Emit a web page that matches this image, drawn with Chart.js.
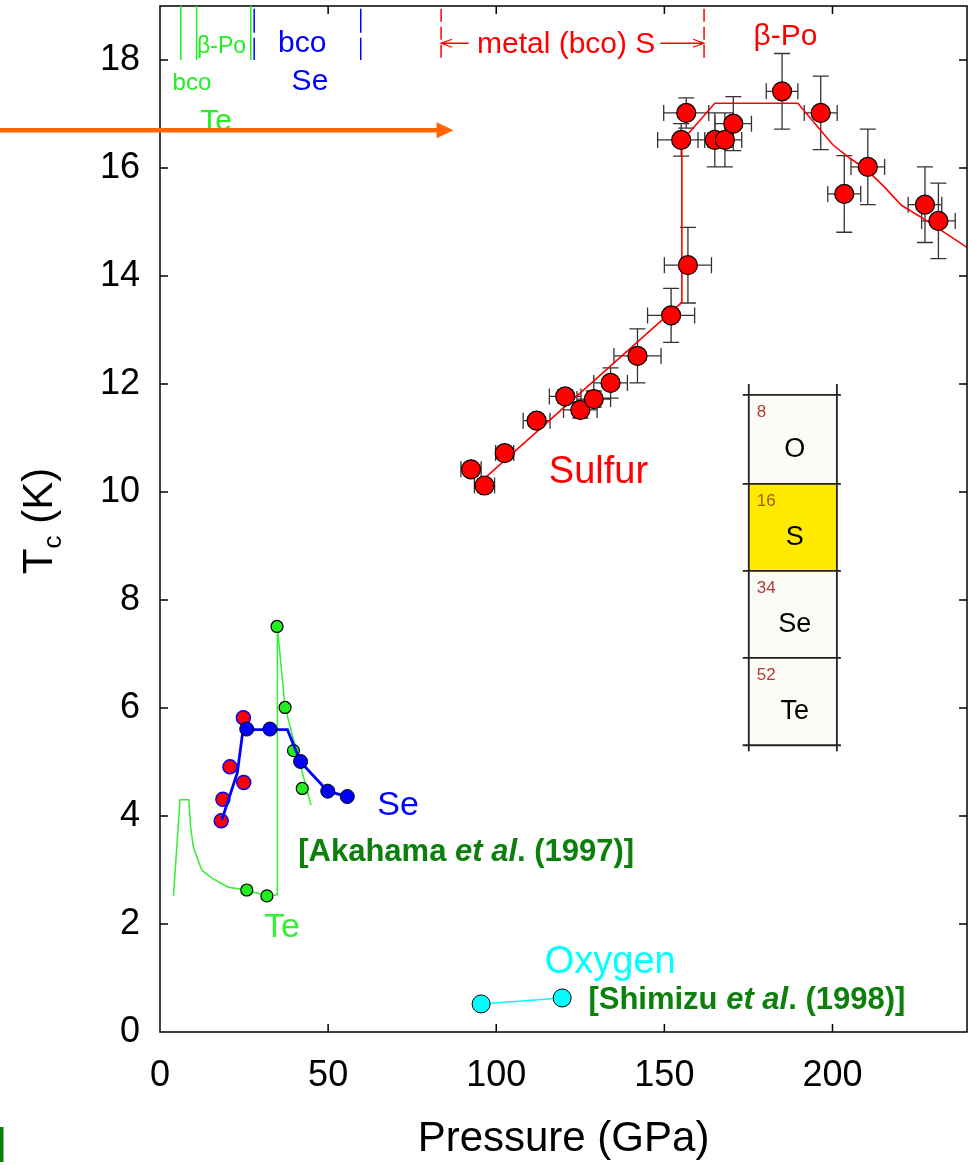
<!DOCTYPE html>
<html>
<head>
<meta charset="utf-8">
<script src="https://cdn.jsdelivr.net/npm/chart.js@4.4.0/dist/chart.umd.min.js"></script>
<style>
  body { margin: 0; background: #fff; }
  canvas { display: block; }
</style>
</head>
<body>
<canvas id="myChart" width="971" height="1165"></canvas>
<script>
// sulfur data (pressure GPa, Tc K) + error bars
let sulfurP = [92.5, 96.5, 102.5, 112, 120.5, 125, 129, 134, 142, 152, 157, 155, 156.5, 165, 168, 170.5, 185, 196.5, 203.5, 210.5, 227.5, 231.5];
let sulfurTc = [10.42, 10.12, 10.72, 11.32, 11.77, 11.52, 11.72, 12.02, 12.52, 13.27, 14.2, 16.52, 17.02, 16.52, 16.52, 16.82, 17.42, 17.02, 15.52, 16.02, 15.32, 15.02];
let sulfurPErr = [3, 3, 2.7, 4, 4.7, 5, 5, 5, 7, 7, 7, 7, 6.7, 5, 5, 5.4, 4.7, 4.9, 4.9, 5, 5, 5];
let sulfurTcErr = [0.1, 0.1, 0.1, 0.1, 0.12, 0.15, 0.15, 0.28, 0.5, 0.5, 0.7, 0.3, 0.28, 0.5, 0.5, 0.5, 0.7, 0.68, 0.71, 0.7, 0.7, 0.7];
let sulfurFitP = [97, 155.2, 155.2, 165, 189.7, 200.1, 205.2, 210.3, 215.4, 220.5, 227.6, 240];
let sulfurFitTc = [10.28, 13.51, 16.5, 17.2, 17.2, 16.43, 16.18, 15.96, 15.65, 15.31, 15.04, 14.53];

// selenium
let seRedP = [18.2, 18.7, 20.8, 24.9, 24.8];
let seRedTc = [3.91, 4.31, 4.91, 4.62, 5.82];
let seBlueP = [25.8, 32.7, 41.8, 49.9, 55.7];
let seBlueTc = [5.61, 5.61, 5.01, 4.46, 4.36];
let seLineP = [18.4, 23.0, 24.7, 37.9, 41.8, 49.9, 55.7];
let seLineTc = [3.93, 4.8, 5.6, 5.6, 5.0, 4.46, 4.36];

// tellurium
let teP = [25.8, 31.8, 34.8, 37.2, 39.7, 42.3];
let teTc = [2.63, 2.52, 7.51, 6.01, 5.21, 4.51];
let teLineP = [4.0, 5.95, 8.6, 9.1, 9.9, 12.4, 15.4, 20.3, 25.8, 31.8, 34.9, 34.9, 37.2, 44.9];
let teLineTc = [2.52, 4.3, 4.3, 3.8, 3.43, 3.0, 2.85, 2.68, 2.63, 2.52, 2.54, 7.5, 6.01, 4.2];

// oxygen
let oxP = [95.5, 119.6];
let oxTc = [0.52, 0.63];

// periodic table inset
let elemSymbols = ['O', 'S', 'Se', 'Te'];
let elemNumbers = ['8', '16', '34', '52'];

const FONT = '"Liberation Sans", Arial, sans-serif';
let toPts = (xs, ys) => xs.map((v, i) => ({x: v, y: ys[i]}));

const errorBars = {
  id: 'errorBars',
  beforeDatasetsDraw(chart) {
    const {ctx, scales: {x, y}} = chart;
    const cap = 8;
    ctx.save();
    ctx.strokeStyle = '#333';
    ctx.lineWidth = 1.3;
    ctx.beginPath();
    for (let i = 0; i < sulfurP.length; i++) {
      let cx = x.getPixelForValue(sulfurP[i]), cy = y.getPixelForValue(sulfurTc[i]);
      let x0 = x.getPixelForValue(sulfurP[i] - sulfurPErr[i]), x1 = x.getPixelForValue(sulfurP[i] + sulfurPErr[i]);
      let y0 = y.getPixelForValue(sulfurTc[i] - sulfurTcErr[i]), y1 = y.getPixelForValue(sulfurTc[i] + sulfurTcErr[i]);
      ctx.moveTo(x0, cy); ctx.lineTo(x1, cy);
      ctx.moveTo(x0, cy - cap); ctx.lineTo(x0, cy + cap);
      ctx.moveTo(x1, cy - cap); ctx.lineTo(x1, cy + cap);
      ctx.moveTo(cx, y0); ctx.lineTo(cx, y1);
      ctx.moveTo(cx - cap, y0); ctx.lineTo(cx + cap, y0);
      ctx.moveTo(cx - cap, y1); ctx.lineTo(cx + cap, y1);
    }
    ctx.stroke();
    ctx.restore();
  }
};

const frame = {
  id: 'frame',
  afterDatasetsDraw(chart) {
    const {ctx, chartArea: a, scales: {x, y}} = chart;
    const tl = 8;
    ctx.save();
    ctx.strokeStyle = '#000';
    ctx.lineWidth = 1.5;
    ctx.strokeRect(a.left, a.top, a.right - a.left, a.bottom - a.top);
    ctx.beginPath();
    x.ticks.forEach(t => {
      let p = x.getPixelForValue(t.value);
      if (p < a.left + 2) return;
      ctx.moveTo(p, a.bottom); ctx.lineTo(p, a.bottom - tl);
      ctx.moveTo(p, a.top); ctx.lineTo(p, a.top + tl);
    });
    y.ticks.forEach(t => {
      let p = y.getPixelForValue(t.value);
      if (p > a.bottom - 2) return;
      ctx.moveTo(a.left, p); ctx.lineTo(a.left + tl, p);
      ctx.moveTo(a.right, p); ctx.lineTo(a.right - tl, p);
    });
    ctx.stroke();
    ctx.restore();
  }
};

function label(ctx, s, px, py, size, color, align) {
  ctx.font = size + 'px ' + FONT;
  ctx.fillStyle = color;
  ctx.textAlign = align || 'center';
  ctx.textBaseline = 'middle';
  ctx.fillText(s, px, py);
}

function refText(ctx, parts, px, py, size, color) {
  let cx = px;
  ctx.fillStyle = color;
  ctx.textAlign = 'left';
  ctx.textBaseline = 'middle';
  parts.forEach(p => {
    ctx.font = (p.it ? 'italic ' : '') + 'bold ' + size + 'px ' + FONT;
    ctx.fillText(p.s, cx, py);
    cx += ctx.measureText(p.s).width;
  });
}

const notes = {
  id: 'notes',
  afterDraw(chart) {
    const {ctx, chartArea: a, scales: {x, y}} = chart;
    let X = v => x.getPixelForValue(v), Y = v => y.getPixelForValue(v);
    ctx.save();

    // periodic table inset
    let tx0 = X(175.1), tx1 = X(201.3);
    let rows = [11.8, 10.15, 8.54, 6.93, 5.31];
    ctx.fillStyle = '#fcfcf6';
    ctx.fillRect(tx0, Y(rows[0]), tx1 - tx0, Y(rows[4]) - Y(rows[0]));
    ctx.fillStyle = '#ffea00';
    ctx.fillRect(tx0, Y(rows[1]), tx1 - tx0, Y(rows[2]) - Y(rows[1]));
    ctx.strokeStyle = '#222';
    ctx.lineWidth = 1.8;
    ctx.beginPath();
    ctx.moveTo(tx0, Y(12.0)); ctx.lineTo(tx0, Y(5.2));
    ctx.moveTo(tx1, Y(12.0)); ctx.lineTo(tx1, Y(5.2));
    rows.forEach(r => { ctx.moveTo(X(173.3), Y(r)); ctx.lineTo(X(202.5), Y(r)); });
    ctx.stroke();
    for (let i = 0; i < 4; i++) {
      let top = Y(rows[i]), h = Y(rows[i + 1]) - top;
      label(ctx, elemNumbers[i], tx0 + 8, top + h * 0.2, 17, i === 1 ? '#a05a00' : '#b03a3a', 'left');
      label(ctx, elemSymbols[i], (tx0 + tx1) / 2 + 2, top + h * 0.62, 27, '#000');
    }

    // phase boundary marks at top
    ctx.lineWidth = 1.5;
    ctx.strokeStyle = '#22ee22';
    ctx.beginPath();
    [6.2, 10.9, 27.0].forEach(p => { ctx.moveTo(X(p), Y(19)); ctx.lineTo(X(p), Y(18.0)); });
    ctx.stroke();
    ctx.strokeStyle = '#0000ff';
    ctx.setLineDash([24, 5]);
    ctx.beginPath();
    [28.0, 59.7].forEach(p => { ctx.moveTo(X(p), Y(18.95)); ctx.lineTo(X(p), Y(18.0)); });
    ctx.stroke();
    ctx.strokeStyle = '#ff0000';
    ctx.setLineDash([13, 5]);
    ctx.beginPath();
    [83.6, 161.8].forEach(p => { ctx.moveTo(X(p), Y(18.95)); ctx.lineTo(X(p), Y(18.0)); });
    ctx.stroke();
    ctx.setLineDash([]);

    // red arrows around "metal (bco) S"
    let ay = Y(18.31);
    ctx.lineWidth = 1.3;
    ctx.beginPath();
    ctx.moveTo(X(83.6), ay); ctx.lineTo(X(91.8), ay);
    ctx.moveTo(X(83.6) + 11, ay - 4); ctx.lineTo(X(83.6), ay); ctx.lineTo(X(83.6) + 11, ay + 4);
    ctx.moveTo(X(148.8), ay); ctx.lineTo(X(161.8), ay);
    ctx.moveTo(X(161.8) - 11, ay - 4); ctx.lineTo(X(161.8), ay); ctx.lineTo(X(161.8) - 11, ay + 4);
    ctx.stroke();

    label(ctx, 'β-Po', X(11.0), Y(18.24), 23, '#22ee22', 'left');
    label(ctx, 'bco', X(9.5), Y(17.56), 24, '#22ee22');
    label(ctx, 'Te', X(16.7), Y(16.86), 30, '#22ee22');
    label(ctx, 'bco', X(42.3), Y(18.3), 30, '#0000ff');
    label(ctx, 'Se', X(44.6), Y(17.6), 30, '#0000ff');
    label(ctx, 'metal (bco) S', X(120.8), Y(18.28), 30, '#ff0000');
    label(ctx, 'β-Po', X(186), Y(18.43), 30, '#ff0000');

    // orange arrow
    let oy = Y(16.7), tip = X(87.3);
    ctx.strokeStyle = '#ff6600';
    ctx.fillStyle = '#ff6600';
    ctx.lineWidth = 4.5;
    ctx.beginPath();
    ctx.moveTo(0, oy); ctx.lineTo(tip - 14, oy);
    ctx.stroke();
    ctx.beginPath();
    ctx.moveTo(tip - 17, oy - 8); ctx.lineTo(tip, oy); ctx.lineTo(tip - 17, oy + 8);
    ctx.closePath();
    ctx.fill();

    // element labels and references
    label(ctx, 'Sulfur', X(130.4), Y(10.37), 38, '#ff0000');
    label(ctx, 'Se', X(70.8), Y(4.2), 34, '#0000ff');
    label(ctx, 'Te', X(36.3), Y(1.93), 34, '#33ee33');
    label(ctx, 'Oxygen', X(133.9), Y(1.28), 38, '#00ffff');
    refText(ctx, [{s: '[Akahama '}, {s: 'et al', it: true}, {s: '. (1997)]'}], X(41.1), Y(3.33), 31, '#0b800b');
    refText(ctx, [{s: '[Shimizu '}, {s: 'et al', it: true}, {s: '. (1998)]'}], X(127.4), Y(0.59), 31, '#0b800b');

    // cut-off mark at bottom left
    ctx.fillStyle = '#0b800b';
    ctx.fillRect(0, 1127, 3.5, 35);

    // y axis title with subscript
    ctx.translate(a.left - 108, (a.top + a.bottom) / 2 + 2);
    ctx.rotate(-Math.PI / 2);
    ctx.fillStyle = '#000';
    ctx.textAlign = 'left';
    ctx.textBaseline = 'alphabetic';
    ctx.font = '42px ' + FONT;
    let wT = ctx.measureText('T').width, wK = ctx.measureText(' (K)').width;
    ctx.font = '26px ' + FONT;
    let wc = ctx.measureText('c').width;
    let sx = -(wT + wc + wK) / 2;
    ctx.font = '42px ' + FONT;
    ctx.fillText('T', sx, 0);
    ctx.fillText(' (K)', sx + wT + wc, 0);
    ctx.font = '26px ' + FONT;
    ctx.fillText('c', sx + wT, 9);
    ctx.restore();
  }
};

function noPad(s) {
  s.paddingLeft = 0; s.paddingRight = 0; s.paddingTop = 0; s.paddingBottom = 0;
}

let myChart = new Chart(document.getElementById('myChart'), {
  type: 'scatter',
  data: {
    datasets: [
      {
        data: toPts(oxP, oxTc), showLine: true, borderColor: '#00ffff', borderWidth: 1.5,
        pointRadius: 9, pointBackgroundColor: '#00ffff', pointBorderColor: '#000', pointBorderWidth: 1, order: 1
      },
      {
        data: toPts(seBlueP, seBlueTc), showLine: false,
        pointRadius: 7, pointBackgroundColor: '#0000ff', pointBorderColor: '#000', pointBorderWidth: 1, order: 2
      },
      {
        data: toPts(seLineP, seLineTc), showLine: true, borderColor: '#0000ff', borderWidth: 2.8,
        pointRadius: 0, order: 3
      },
      {
        data: toPts(seRedP, seRedTc), showLine: false,
        pointRadius: 7, pointBackgroundColor: '#ff0000', pointBorderColor: '#0000ff', pointBorderWidth: 1.5, order: 4
      },
      {
        data: toPts(teP, teTc), showLine: false,
        pointRadius: 6, pointBackgroundColor: '#22ee22', pointBorderColor: '#000', pointBorderWidth: 1.2, order: 5
      },
      {
        data: toPts(teLineP, teLineTc), showLine: true, borderColor: '#33ee33', borderWidth: 1.5,
        pointRadius: 0, order: 6
      },
      {
        data: toPts(sulfurP, sulfurTc), showLine: false,
        pointRadius: 9.5, pointBackgroundColor: '#ff0000', pointBorderColor: '#000', pointBorderWidth: 1.2, order: 7
      },
      {
        data: toPts(sulfurFitP, sulfurFitTc), showLine: true, borderColor: '#ff0000', borderWidth: 1.6,
        pointRadius: 0, order: 8
      }
    ]
  },
  options: {
    responsive: false,
    devicePixelRatio: 1,
    animation: false,
    layout: { autoPadding: false, padding: { top: 6, right: 4, left: 0, bottom: 0 } },
    plugins: { legend: { display: false }, tooltip: { enabled: false } },
    scales: {
      x: {
        type: 'linear', min: 0, max: 240,
        grid: { display: false, drawTicks: false },
        border: { display: false },
        ticks: { stepSize: 50, includeBounds: false, color: '#000', padding: 22, font: { size: 36, family: FONT } },
        title: { display: true, text: 'Pressure (GPa)', color: '#000', padding: 0, font: { size: 42, family: FONT } },
        afterFit: s => { s.height = 133; noPad(s); }
      },
      y: {
        type: 'linear', min: 0, max: 19,
        grid: { display: false, drawTicks: false },
        border: { display: false },
        ticks: { stepSize: 2, includeBounds: false, color: '#000', padding: 20, font: { size: 36, family: FONT } },
        afterFit: s => { s.width = 160; noPad(s); }
      }
    }
  },
  plugins: [errorBars, frame, notes]
});
</script>
</body>
</html>
